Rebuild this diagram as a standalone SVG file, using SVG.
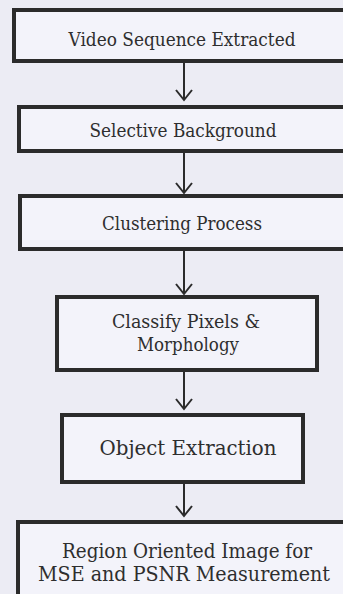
<svg xmlns="http://www.w3.org/2000/svg" width="343" height="594" viewBox="0 0 343 594">
<style>
.box{fill:#f3f3fa;stroke:#2b2b2b;stroke-width:4}
.t{font-family:'DejaVu Serif',serif;fill:#2e2e2e;text-anchor:middle}
.c{stroke:#2b2b2b;stroke-width:2;fill:none}
</style>
<defs>
<marker id="ah" viewBox="0 0 14 20" refX="12" refY="10" markerWidth="14" markerHeight="20" markerUnits="userSpaceOnUse" orient="auto">
<path d="M2 2 L12 10 L2 18" fill="none" stroke="#2b2b2b" stroke-width="2"/>
</marker>
</defs>
<rect width="343" height="594" fill="#ececf4"/>
<g id="n1"><rect class="box" x="14" y="10" width="340" height="51"/><text class="t" x="182" y="46" font-size="19" textLength="227" lengthAdjust="spacingAndGlyphs">Video Sequence Extracted</text></g>
<g id="n2"><rect class="box" x="19" y="107" width="335" height="44"/><text class="t" x="183" y="137" font-size="19" textLength="187" lengthAdjust="spacingAndGlyphs">Selective Background</text></g>
<g id="n3"><rect class="box" x="20" y="196" width="334" height="53"/><text class="t" x="182" y="230" font-size="19" textLength="160" lengthAdjust="spacingAndGlyphs">Clustering Process</text></g>
<g id="n4"><rect class="box" x="57" y="297" width="260" height="73"/><text class="t" x="186" y="328" font-size="19" textLength="148" lengthAdjust="spacingAndGlyphs">Classify Pixels &amp;</text><text class="t" x="188" y="351" font-size="19" textLength="102" lengthAdjust="spacingAndGlyphs">Morphology</text></g>
<g id="n5"><rect class="box" x="62" y="415" width="241" height="67"/><text class="t" x="188" y="455" font-size="20.5" textLength="177" lengthAdjust="spacingAndGlyphs">Object Extraction</text></g>
<g id="n6"><rect class="box" x="18" y="522" width="336" height="90"/><text class="t" x="187" y="558" font-size="20" textLength="250" lengthAdjust="spacingAndGlyphs">Region Oriented Image for</text><text class="t" x="184" y="581" font-size="20" textLength="292" lengthAdjust="spacingAndGlyphs">MSE and PSNR Measurement</text></g>
<g id="connectors">
<line class="c" x1="184" y1="63" x2="184" y2="100" marker-end="url(#ah)"/>
<line class="c" x1="184" y1="153" x2="184" y2="193" marker-end="url(#ah)"/>
<line class="c" x1="184" y1="251" x2="184" y2="294" marker-end="url(#ah)"/>
<line class="c" x1="184" y1="372" x2="184" y2="409" marker-end="url(#ah)"/>
<line class="c" x1="184" y1="484" x2="184" y2="516" marker-end="url(#ah)"/>
</g>
</svg>
